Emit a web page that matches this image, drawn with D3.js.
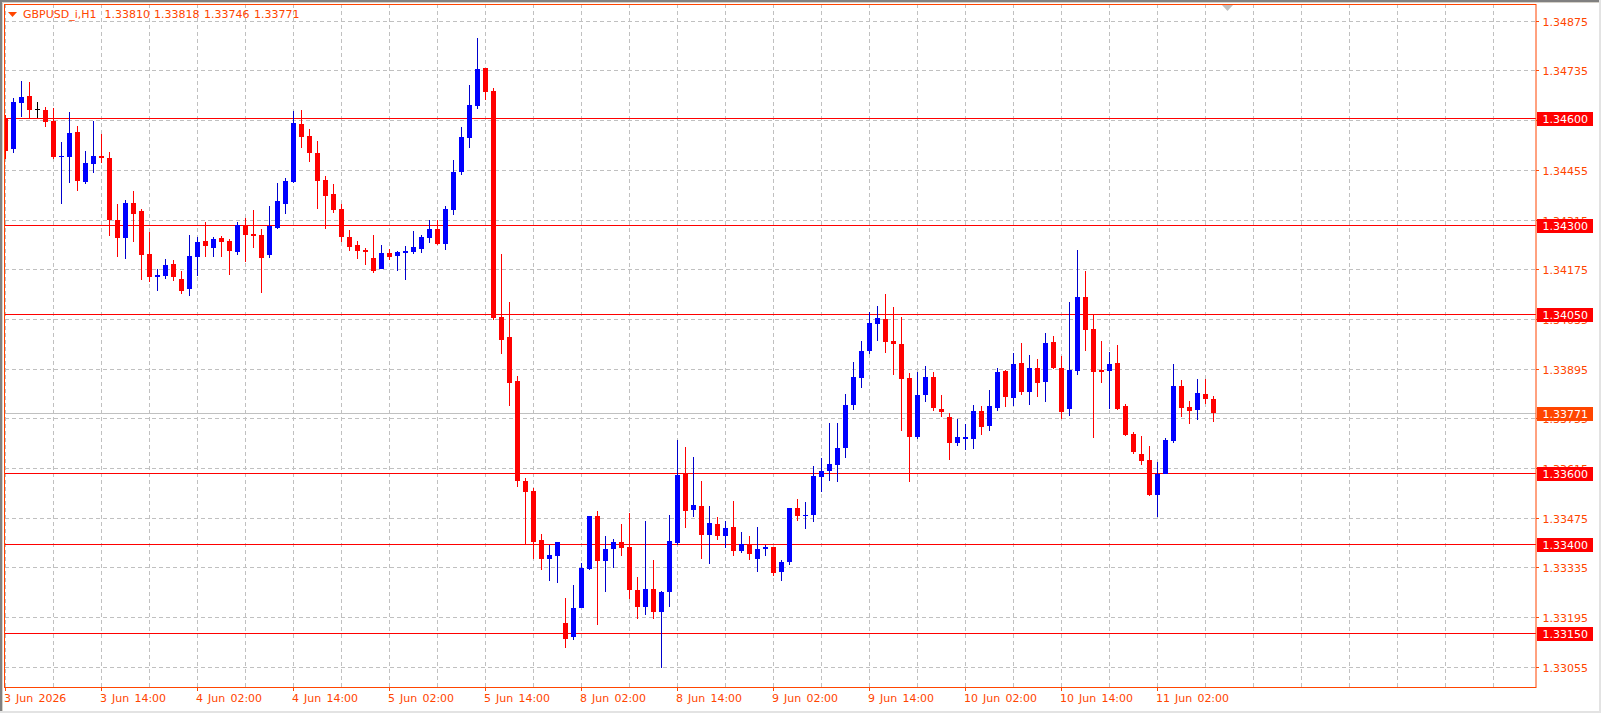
<!DOCTYPE html>
<html>
<head>
<meta charset="utf-8">
<title>GBPUSD_i,H1</title>
<script src="https://cdn.jsdelivr.net/npm/d3@7"></script>
<style>
	html, body { margin: 0; padding: 0; background: #fff; overflow: hidden; }
	svg { display: block; }
	text { font-family: "DejaVu Sans", sans-serif; font-size: 11px; }
</style>
</head>
<body>
<div id="chart"></div>
<script>
var opens = [
	1.34603,1.34515,1.34645,1.34665,1.34628,1.34625,1.34594,1.34493,1.34493,1.34563,
	1.34422,1.34473,1.34495,1.34490,1.34315,1.34264,1.34363,1.34341,1.34219,1.34155,
	1.34157,1.34191,1.34149,1.34121,1.34211,1.34256,1.34236,1.34264,1.34256,1.34225,
	1.34301,1.34276,1.34273,1.34217,1.34293,1.34360,1.34422,1.34586,1.34552,1.34504,
	1.34428,1.34388,1.34346,1.34267,1.34245,1.34231,1.34208,1.34177,1.34222,1.34214,
	1.34222,1.34225,1.34233,1.34264,1.34290,1.34248,1.34343,1.34450,1.34546,1.34636,
	1.34743,1.34679,1.34042,1.33986,1.33862,1.33580,1.33552,1.33414,1.33360,1.33369,
	1.33180,1.33140,1.33222,1.33332,1.33481,1.33354,1.33388,1.33408,1.33394,1.33273,
	1.33225,1.33276,1.33211,1.33267,1.33405,1.33600,1.33498,1.33509,1.33428,1.33459,
	1.33425,1.33450,1.33383,1.33402,1.33360,1.33388,1.33394,1.33323,1.33352,1.33504,
	1.33481,1.33484,1.33591,1.33608,1.33625,1.33673,1.33794,1.33870,1.33946,1.34022,
	1.34036,1.33974,1.33966,1.33870,1.33704,1.33822,1.33873,1.33783,1.33760,1.33687,
	1.33698,1.33698,1.33777,1.33735,1.33786,1.33890,1.33814,1.33912,1.33831,1.33898,
	1.33859,1.33971,1.33898,1.33783,1.33890,1.34098,1.34008,1.33893,1.33890,1.33912,
	1.33791,1.33712,1.33656,1.33639,1.33540,1.33600,1.33693,1.33847,1.33788,1.33780,
	1.33825,1.33810
];
var highs = [
	1.34611,1.34659,1.34707,1.34704,1.34648,1.34634,1.34631,1.34535,1.34619,1.34580,
	1.34510,1.34594,1.34557,1.34507,1.34360,1.34372,1.34397,1.34346,1.34281,1.34177,
	1.34205,1.34202,1.34171,1.34273,1.34267,1.34310,1.34267,1.34270,1.34262,1.34310,
	1.34321,1.34343,1.34290,1.34355,1.34419,1.34434,1.34622,1.34625,1.34572,1.34538,
	1.34439,1.34417,1.34360,1.34287,1.34256,1.34236,1.34273,1.34245,1.34233,1.34228,
	1.34242,1.34284,1.34273,1.34315,1.34315,1.34355,1.34484,1.34577,1.34696,1.34828,
	1.34743,1.34687,1.34219,1.34084,1.33876,1.33588,1.33560,1.33431,1.33400,1.33408,
	1.33250,1.33287,1.33349,1.33481,1.33495,1.33425,1.33416,1.33459,1.33490,1.33309,
	1.33467,1.33357,1.33270,1.33484,1.33695,1.33676,1.33647,1.33580,1.33509,1.33478,
	1.33467,1.33523,1.33436,1.33425,1.33450,1.33400,1.33394,1.33357,1.33504,1.33529,
	1.33521,1.33622,1.33645,1.33743,1.33743,1.33825,1.33915,1.33974,1.34056,1.34073,
	1.34107,1.34070,1.34042,1.33884,1.33887,1.33904,1.33887,1.33822,1.33771,1.33755,
	1.33740,1.33794,1.33791,1.33836,1.33898,1.33893,1.33940,1.33969,1.33935,1.33924,
	1.33997,1.33988,1.33932,1.34084,1.34231,1.34171,1.34048,1.33974,1.33943,1.33963,
	1.33797,1.33718,1.33707,1.33678,1.33633,1.33701,1.33909,1.33864,1.33805,1.33867,
	1.33867,1.33818
];
var lows = [
	1.34487,1.34504,1.34605,1.34600,1.34603,1.34577,1.34487,1.34360,1.34419,1.34397,
	1.34417,1.34448,1.34476,1.34270,1.34211,1.34205,1.34253,1.34146,1.34140,1.34115,
	1.34149,1.34143,1.34107,1.34101,1.34157,1.34211,1.34211,1.34211,1.34160,1.34217,
	1.34197,1.34236,1.34110,1.34208,1.34290,1.34332,1.34419,1.34518,1.34479,1.34346,
	1.34290,1.34335,1.34253,1.34228,1.34205,1.34188,1.34166,1.34177,1.34202,1.34171,
	1.34146,1.34219,1.34222,1.34250,1.34245,1.34231,1.34329,1.34442,1.34518,1.34628,
	1.34653,1.34033,1.33938,1.33791,1.33563,1.33400,1.33360,1.33329,1.33298,1.33292,
	1.33109,1.33132,1.33222,1.33329,1.33174,1.33267,1.33335,1.33369,1.33247,1.33191,
	1.33202,1.33191,1.33053,1.33225,1.33400,1.33447,1.33478,1.33360,1.33346,1.33414,
	1.33391,1.33369,1.33377,1.33357,1.33323,1.33369,1.33312,1.33298,1.33343,1.33467,
	1.33445,1.33464,1.33549,1.33580,1.33577,1.33645,1.33780,1.33842,1.33938,1.33974,
	1.33940,1.33878,1.33721,1.33577,1.33698,1.33802,1.33777,1.33760,1.33639,1.33678,
	1.33667,1.33670,1.33709,1.33721,1.33777,1.33788,1.33791,1.33822,1.33794,1.33817,
	1.33802,1.33895,1.33755,1.33763,1.33878,1.33946,1.33701,1.33856,1.33783,1.33780,
	1.33707,1.33656,1.33625,1.33538,1.33478,1.33600,1.33687,1.33760,1.33740,1.33752,
	1.33797,1.33746
];
var closes = [
	1.34510,1.34648,1.34662,1.34625,1.34628,1.34591,1.34493,1.34495,1.34560,1.34425,
	1.34476,1.34495,1.34490,1.34315,1.34264,1.34363,1.34332,1.34217,1.34155,1.34160,
	1.34188,1.34155,1.34115,1.34214,1.34253,1.34242,1.34262,1.34253,1.34228,1.34301,
	1.34273,1.34270,1.34208,1.34298,1.34369,1.34425,1.34588,1.34549,1.34504,1.34425,
	1.34383,1.34343,1.34267,1.34239,1.34228,1.34225,1.34171,1.34222,1.34211,1.34225,
	1.34228,1.34239,1.34267,1.34290,1.34248,1.34346,1.34450,1.34549,1.34639,1.34741,
	1.34676,1.34039,1.33977,1.33856,1.33580,1.33549,1.33408,1.33360,1.33371,1.33408,
	1.33135,1.33222,1.33335,1.33481,1.33354,1.33388,1.33408,1.33391,1.33273,1.33225,
	1.33276,1.33211,1.33267,1.33411,1.33597,1.33495,1.33512,1.33428,1.33461,1.33425,
	1.33447,1.33383,1.33402,1.33374,1.33388,1.33394,1.33321,1.33352,1.33504,1.33481,
	1.33484,1.33594,1.33608,1.33628,1.33673,1.33794,1.33873,1.33946,1.34025,1.34039,
	1.33971,1.33966,1.33867,1.33704,1.33822,1.33873,1.33786,1.33774,1.33687,1.33704,
	1.33704,1.33777,1.33732,1.33791,1.33887,1.33817,1.33909,1.33831,1.33898,1.33856,
	1.33969,1.33898,1.33774,1.33893,1.34098,1.34005,1.33887,1.33887,1.33909,1.33783,
	1.33709,1.33662,1.33636,1.33540,1.33600,1.33695,1.33847,1.33786,1.33777,1.33828,
	1.33811,1.33771
];

var priceTicks = [1.34875, 1.34735, 1.34595, 1.34455, 1.34315, 1.34175, 1.34035, 1.33895, 1.33755, 1.33615, 1.33475, 1.33335, 1.33195, 1.33055];
var levels = [1.34600, 1.34300, 1.34050, 1.33600, 1.33400, 1.33150];
var lastPrice = 1.33771;

var dateLabels = ["3 Jun 2026", "3 Jun 14:00", "4 Jun 02:00", "4 Jun 14:00", "5 Jun 02:00", "5 Jun 14:00", "8 Jun 02:00", "8 Jun 14:00", "9 Jun 02:00", "9 Jun 14:00", "10 Jun 02:00", "10 Jun 14:00", "11 Jun 02:00"];
var barsPerLabel = 12,
	barsPerGrid = 6,
	gridBars = 186;

var titleTexts = ["GBPUSD_i,H1", "1.33810", "1.33818", "1.33746", "1.33771"];
var titleX = [23, 104.5, 154, 204, 254];

var width = 1601,
	height = 713;

var frame = {left: 5, top: 4, right: 1536, bottom: 687};

var orangeRed = "#ff4500",
	lineRed = "#ff0000",
	upColor = "#0000ff",
	upWick = "#0000cd",
	downColor = "#ff0000",
	gridColor = "#c0c0c0",
	priceLineColor = "#c0c0c0";

var x = d3.scaleLinear().domain([0, 1]).range([5.5, 13.5]);
var y = d3.scaleLinear().domain([priceTicks[0], priceTicks[priceTicks.length - 1]]).range([21.3, 667.3]);

function crisp(v) {
	return Math.floor(v) + 0.5;
}

var svg = d3.select("#chart")
	.append("svg")
		.attr("width", width)
		.attr("height", height);

// window edges
svg.append("rect").attr("x", 0).attr("y", 0).attr("width", width).attr("height", 2).attr("fill", "#808080");
svg.append("rect").attr("x", 0).attr("y", 2).attr("width", width).attr("height", 1).attr("fill", "#d4d0c8");
svg.append("rect").attr("x", 0).attr("y", 0).attr("width", 2).attr("height", height).attr("fill", "#808080");
svg.append("rect").attr("x", 2).attr("y", 2).attr("width", 1).attr("height", height).attr("fill", "#d4d0c8");
svg.append("rect").attr("x", 0).attr("y", 711).attr("width", width).attr("height", 2).attr("fill", "#e3e3e3");
svg.append("rect").attr("x", 1599).attr("y", 0).attr("width", 2).attr("height", height).attr("fill", "#e3e3e3");

svg.append("clipPath")
	.attr("id", "plot")
	.append("rect")
		.attr("x", frame.left)
		.attr("y", frame.top)
		.attr("width", frame.right - frame.left)
		.attr("height", frame.bottom - frame.top);

var plot = svg.append("g").attr("clip-path", "url(#plot)");

var gridIndex = d3.range(0, gridBars + 1, barsPerGrid);

plot.selectAll("line.vgrid")
	.data(gridIndex)
	.enter().append("line")
		.attr("class", "vgrid")
		.attr("x1", function(d) { return crisp(x(d)); })
		.attr("x2", function(d) { return crisp(x(d)); })
		.attr("y1", frame.top)
		.attr("y2", frame.bottom)
		.attr("stroke", gridColor)
		.attr("stroke-dasharray", "4,3");

plot.selectAll("line.hgrid")
	.data(priceTicks)
	.enter().append("line")
		.attr("class", "hgrid")
		.attr("x1", frame.left)
		.attr("x2", frame.right)
		.attr("y1", function(d) { return crisp(y(d)); })
		.attr("y2", function(d) { return crisp(y(d)); })
		.attr("stroke", gridColor)
		.attr("stroke-dasharray", "4,3");

// price line and levels sit under the candles
plot.append("line")
	.attr("x1", frame.left)
	.attr("x2", frame.right)
	.attr("y1", crisp(y(lastPrice)))
	.attr("y2", crisp(y(lastPrice)))
	.attr("stroke", priceLineColor);

plot.selectAll("line.level")
	.data(levels)
	.enter().append("line")
		.attr("class", "level")
		.attr("x1", frame.left)
		.attr("x2", frame.right)
		.attr("y1", function(d) { return crisp(y(d)); })
		.attr("y2", function(d) { return crisp(y(d)); })
		.attr("stroke", lineRed);

function candleColor(i) {
	if (closes[i] > opens[i]) return upColor;
	if (closes[i] < opens[i]) return downColor;
	return "#000000";
}

function wickColor(i) {
	return closes[i] > opens[i] ? upWick : candleColor(i);
}

var candles = plot.selectAll("g.candle")
	.data(d3.range(opens.length))
	.enter().append("g")
		.attr("class", "candle");

candles.append("rect")
	.attr("x", function(i) { return Math.floor(x(i)); })
	.attr("width", 1)
	.attr("y", function(i) { return Math.round(y(highs[i])); })
	.attr("height", function(i) { return Math.max(1, Math.round(y(lows[i])) - Math.round(y(highs[i]))); })
	.attr("fill", wickColor);

candles.append("rect")
	.attr("x", function(i) { return Math.floor(x(i)) - 2; })
	.attr("width", 5)
	.attr("y", function(i) { return Math.round(y(Math.max(opens[i], closes[i]))); })
	.attr("height", function(i) {
		return Math.max(1, Math.round(y(Math.min(opens[i], closes[i]))) - Math.round(y(Math.max(opens[i], closes[i]))));
	})
	.attr("fill", candleColor);

// frame
svg.append("rect")
	.attr("x", frame.left - 0.5)
	.attr("y", frame.top + 0.5)
	.attr("width", frame.right - frame.left + 0.5)
	.attr("height", frame.bottom - frame.top)
	.attr("fill", "none")
	.attr("stroke", orangeRed);

// shift marker
svg.append("path")
	.attr("d", "M1222 5 L1233 5 L1227.5 11 Z")
	.attr("fill", priceLineColor);

// title
svg.append("path")
	.attr("d", "M8 12 L17 12 L12.5 17 Z")
	.attr("fill", orangeRed);

svg.selectAll("text.title")
	.data(titleTexts)
	.enter().append("text")
		.attr("class", "title")
		.attr("x", function(d, i) { return titleX[i]; })
		.attr("y", 18)
		.attr("fill", orangeRed)
		.text(function(d) { return d; });

// price axis, a label wholly under a level box is not drawn
var shownTicks = priceTicks.filter(function(d) {
	return !levels.some(function(l) { return Math.abs(l - d) < 0.0001; });
});

svg.selectAll("line.ptick")
	.data(priceTicks)
	.enter().append("line")
		.attr("class", "ptick")
		.attr("x1", frame.right)
		.attr("x2", frame.right + 3)
		.attr("y1", function(d) { return crisp(y(d)); })
		.attr("y2", function(d) { return crisp(y(d)); })
		.attr("stroke", orangeRed);

svg.selectAll("text.plabel")
	.data(shownTicks)
	.enter().append("text")
		.attr("class", "plabel")
		.attr("x", 1542.5)
		.attr("y", function(d) { return crisp(y(d)) + 4; })
		.attr("fill", orangeRed)
		.text(function(d) { return d3.format(".5f")(d); });

// boxed prices on the axis
var boxed = levels.map(function(d) { return {price: d, fill: lineRed}; })
	.concat([{price: lastPrice, fill: orangeRed}]);

var boxes = svg.selectAll("g.box")
	.data(boxed)
	.enter().append("g")
		.attr("class", "box");

boxes.append("rect")
	.attr("x", 1537)
	.attr("width", 56)
	.attr("y", function(d) { return Math.floor(y(d.price)) - 6; })
	.attr("height", 14)
	.attr("fill", function(d) { return d.fill; });

boxes.append("text")
	.attr("x", 1542.5)
	.attr("y", function(d) { return Math.floor(y(d.price)) + 5; })
	.attr("fill", "#ffffff")
	.text(function(d) { return d3.format(".5f")(d.price); });

// time axis
var dateIndex = dateLabels.map(function(d, i) { return i * barsPerLabel; });

svg.selectAll("line.ttick")
	.data(dateIndex)
	.enter().append("line")
		.attr("class", "ttick")
		.attr("x1", function(d) { return crisp(x(d)); })
		.attr("x2", function(d) { return crisp(x(d)); })
		.attr("y1", frame.bottom)
		.attr("y2", frame.bottom + 4)
		.attr("stroke", orangeRed);

svg.selectAll("text.tlabel")
	.data(dateIndex)
	.enter().append("text")
		.attr("class", "tlabel")
		.attr("x", function(d) { return Math.floor(x(d)) - 1; })
		.attr("y", 702)
		.attr("fill", orangeRed)
		.style("word-spacing", "1.6px")
		.text(function(d, i) { return dateLabels[i]; });
</script>
</body>
</html>
